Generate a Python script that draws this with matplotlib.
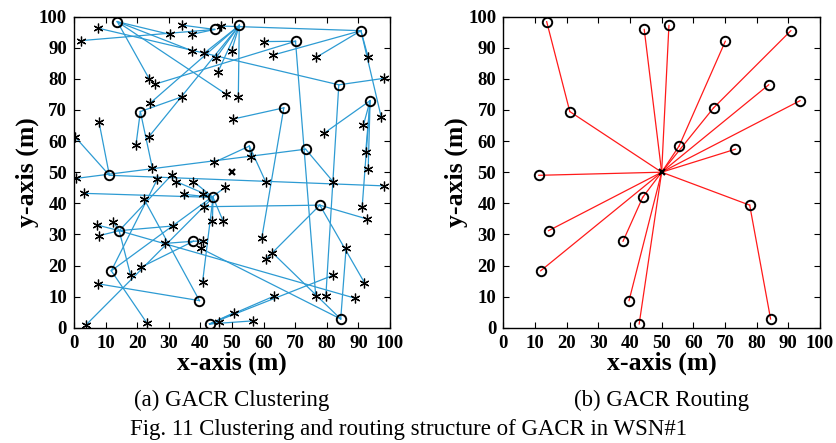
import matplotlib
matplotlib.use("Agg")
import matplotlib.pyplot as plt

# ---------------- data ----------------
sink_x, sink_y = 50.0, 50.0

# cluster heads (CH1..CH20)
ch_x = [13.7, 21.0, 44.5, 52.3, 70.1, 90.8, 83.8, 93.7, 66.4, 55.5,
        73.3, 11.2, 44.0, 14.3, 37.8, 11.8, 39.7, 42.9, 77.8, 84.4]
ch_y = [98.4, 69.5, 95.9, 97.2, 92.1, 95.5, 78.1, 73.0, 70.7, 58.4,
        57.4, 49.0, 41.9, 31.2, 27.8, 18.3, 8.7, 1.2, 39.4, 2.8]

# next hop of each CH in the routing tree (0 = sink)
ch_next = [2, 0, 0, 0, 10, 9, 0, 0, 0, 0,
           0, 0, 0, 0, 13, 0, 0, 0, 0, 19]

# ordinary sensor nodes
node_x = [7.7, 2.1, 34.1, 30.4, 37.2, 46.5, 37.2, 41.1, 49.9, 44.8,
          45.5, 23.8, 25.6, 48.1, 52.0, 24.1, 34.3, 7.9, 50.4, 0.3,
          19.6, 23.7, 44.4, 24.8, 60.1, 63.1, 76.6, 93.1, 98.2, 97.2,
          91.6, 79.1, 55.9, 92.3, 93.1, 47.8, 60.7, 82.1, 98.2, 47.2,
          91.2, 92.6, 59.4, 62.8, 60.7, 86.1, 82.1, 91.9, 63.4, 76.5,
          79.7, 88.9, 50.6, 56.6, 0.6, 3.2, 30.9, 32.3, 37.8, 26.4,
          34.8, 40.7, 41.2, 22.2, 12.4, 7.4, 8.0, 43.8, 31.2, 28.8,
          40.9, 40.1, 21.1, 17.9, 7.7, 40.7, 23.0, 3.8, 46.0]
node_y = [96.3, 92.3, 97.3, 94.3, 94.3, 97.0, 89.1, 88.2, 89.1, 86.6,
          82.1, 80.0, 78.3, 75.1, 74.3, 72.2, 74.3, 66.2, 67.1, 61.4,
          58.7, 61.4, 53.2, 51.3, 92.0, 87.7, 86.9, 86.9, 80.2, 67.8,
          65.2, 62.5, 54.8, 56.4, 50.9, 45.1, 46.8, 46.8, 45.6, 34.3,
          38.9, 35.0, 28.7, 24.1, 22.0, 25.5, 16.9, 14.5, 10.2, 10.2,
          10.2, 9.5, 4.8, 2.2, 48.0, 43.2, 49.1, 47.0, 47.0, 47.8,
          42.9, 42.9, 38.9, 41.3, 34.1, 33.0, 29.6, 34.4, 32.7, 27.1,
          27.9, 25.5, 19.4, 16.9, 14.1, 14.8, 1.6, 0.9, 1.7]
# cluster head each node belongs to (1-based CH index)
node_ch = [7, 3, 3, 1, 3, 6, 1, 4, 4, 4,
           4, 1, 5, 1, 4, 4, 2, 12, 9, 12,
           2, 4, 10, 2, 5, 6, 6, 6, 7, 6,
           8, 8, 10, 8, 8, 16, 10, 11, 12, 13,
           8, 19, 9, 20, 19, 20, 18, 19, 18, 5,
           7, 14, 18, 18, 11, 13, 14, 13, 13, 16,
           13, 13, 19, 17, 14, 14, 14, 13, 14, 15,
           15, 20, 15, 14, 17, 13, 16, 13, 18]

ticks = [0, 10, 20, 30, 40, 50, 60, 70, 80, 90, 100]
panel_titles = ["(a) GACR Clustering", "(b) GACR Routing"]
fig_caption = "Fig. 11 Clustering and routing structure of GACR in WSN#1"

# ---------------- style ----------------
SERIF = ["Liberation Serif", "DejaVu Serif"]
plt.rcParams["font.family"] = SERIF
BLUE = "#2d9bd3"
RED = "#ff1a1a"

fig = plt.figure(figsize=(8.37, 4.43), dpi=100)
W, H = 837.0, 443.0
axL = fig.add_axes([74 / W, (H - 327.7) / H, 316 / W, 311 / H])
axR = fig.add_axes([503.3 / W, (H - 327.7) / H, 316.7 / W, 311 / H])


def style(ax):
    ax.set_xlim(0, 100)
    ax.set_ylim(0, 100)
    ax.set_xticks(ticks)
    ax.set_yticks(ticks)
    ax.tick_params(direction="in", length=4, width=0.8, top=True, right=True,
                   labelsize=13.5, pad=5)
    for lab in ax.get_xticklabels() + ax.get_yticklabels():
        lab.set_fontweight("bold")
    for s in ax.spines.values():
        s.set_linewidth(1.0)
    ax.set_xlabel("x-axis (m)", fontsize=18.5, fontweight="bold", labelpad=0)
    ax.set_ylabel("y-axis (m)", fontsize=18.5, fontweight="bold", labelpad=0)


# ---- (a) clustering ----
for nx, ny, c in zip(node_x, node_y, node_ch):
    axL.plot([nx, ch_x[c - 1]], [ny, ch_y[c - 1]], color=BLUE, lw=0.9,
             zorder=1)
axL.plot(node_x, node_y, linestyle="none", marker=(6, 2, 0), ms=7,
         mec="black", mew=0.9, zorder=3)
axL.plot(ch_x, ch_y, linestyle="none", marker="o", ms=6.8, mfc="none",
         mec="black", mew=1.4, zorder=4)
axL.plot([sink_x], [sink_y], linestyle="none", marker="x", ms=5,
         mec="black", mew=1.6, zorder=5)
style(axL)

# ---- (b) routing ----
for i in range(len(ch_x)):
    nxt = ch_next[i]
    tx, ty = (sink_x, sink_y) if nxt == 0 else (ch_x[nxt - 1], ch_y[nxt - 1])
    axR.plot([ch_x[i], tx], [ch_y[i], ty], color=RED, lw=0.9, zorder=1)
axR.plot(ch_x, ch_y, linestyle="none", marker="o", ms=6.8, mfc="none",
         mec="black", mew=1.4, zorder=4)
axR.plot([sink_x], [sink_y], linestyle="none", marker="x", ms=5,
         mec="black", mew=1.6, zorder=5)
style(axR)

# captions
fig.text(232 / W, 1 - 400 / H, panel_titles[0], ha="center", va="center",
         fontsize=16.5)
fig.text(661.6 / W, 1 - 400 / H, panel_titles[1], ha="center", va="center",
         fontsize=16.5)
fig.text(409 / W, 1 - 429 / H, fig_caption, ha="center", va="center",
         fontsize=16.5)

fig.savefig("out.png", dpi=100)
